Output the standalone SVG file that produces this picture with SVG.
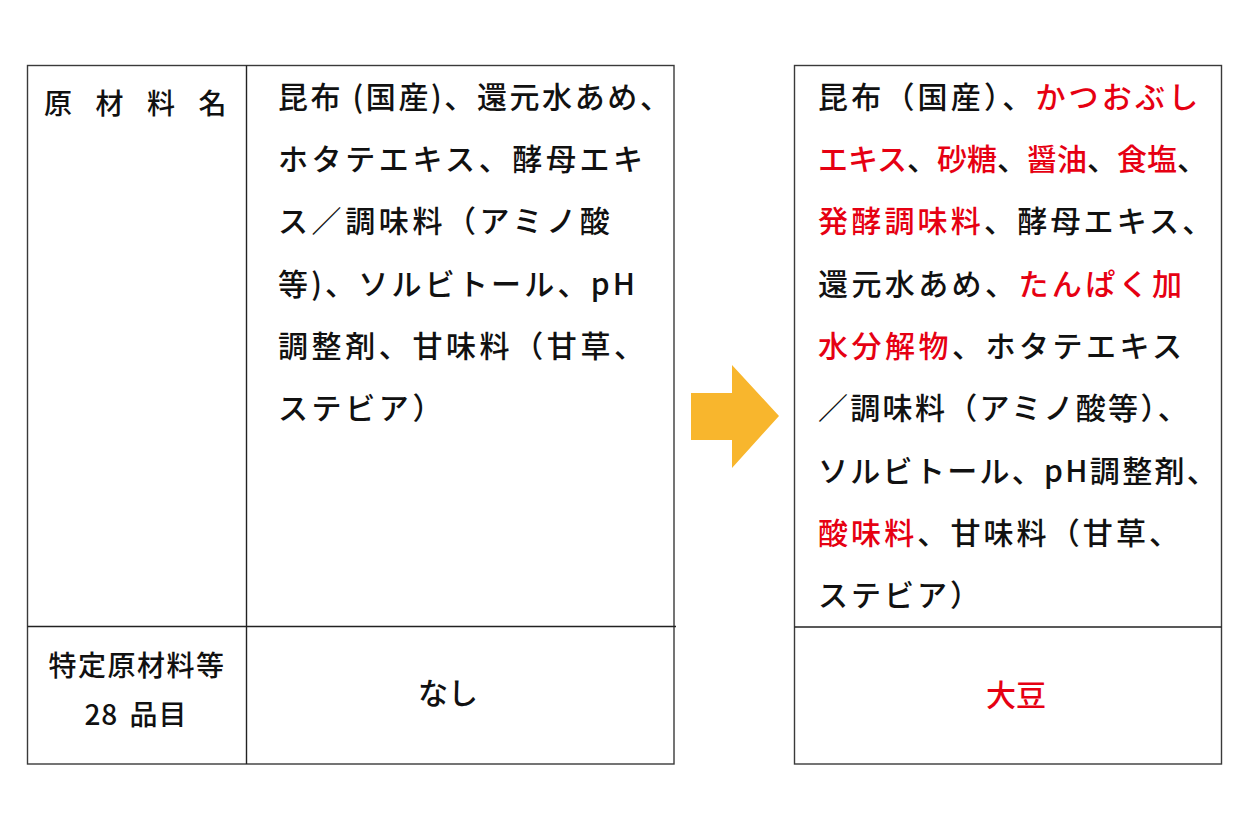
<svg xmlns="http://www.w3.org/2000/svg" width="1250" height="834" viewBox="0 0 1250 834">
<style>
.frame{fill:none;stroke:#3a3a3a;stroke-width:1.4}
.ln{stroke:#222;stroke-width:1.4}
.t{font-family:"Noto Sans CJK JP","Noto Sans",sans-serif;font-size:30px;fill:#111;font-weight:500}
.r{fill:#e60012}
.lbl{font-family:"Noto Sans CJK JP","Noto Sans",sans-serif;font-size:28px;fill:#111;font-weight:500}
</style>
<rect width="1250" height="834" fill="#fff"/>
<g id="before-table">
  <rect class="frame" x="27.5" y="65.5" width="646.5" height="698.5"/>
  <line class="ln" x1="246.5" y1="65.5" x2="246.5" y2="764"/>
  <line class="ln" x1="27.5" y1="626.5" x2="676" y2="626.5"/>
  <text class="lbl" x="44" y="114" letter-spacing="23.5">原材料名</text>
  <g class="t" letter-spacing="3.6">
    <text x="278" y="108" letter-spacing="2.6">昆布 (国産)、還元水あめ、</text>
    <text x="278" y="170">ホタテエキス、酵母エキ</text>
    <text x="278" y="232">ス／調味料（アミノ酸</text>
    <text x="278" y="295" letter-spacing="3.2">等)、ソルビトール、pH</text>
    <text x="278" y="357">調整剤、甘味料（甘草、</text>
    <text x="278" y="419">ステビア）</text>
  </g>
  <text class="lbl" x="137" y="676" text-anchor="middle" letter-spacing="1.5">特定原材料等</text>
  <text class="lbl" x="136" y="725" text-anchor="middle" word-spacing="4" letter-spacing="1">28 品目</text>
  <text class="t" x="448" y="704" text-anchor="middle" font-size="32">なし</text>
</g>
<g id="connectors">
  <polygon points="691,393 732,393 732,365 779,416 732,468 732,440 691,440" fill="#f8b62d"/>
</g>
<g id="after-table">
  <rect class="frame" x="794.5" y="65.5" width="427" height="698.5"/>
  <line class="ln" x1="794.5" y1="627" x2="1221.5" y2="627"/>
  <g class="t">
    <text x="818" y="108" letter-spacing="3.2">昆布（国産）、<tspan class="r">かつおぶし</tspan></text>
    <text x="818" y="170" letter-spacing="0"><tspan class="r">エキス</tspan>、<tspan class="r">砂糖</tspan>、<tspan class="r">醤油</tspan>、<tspan class="r">食塩</tspan>、</text>
    <text x="818" y="232" letter-spacing="3.2"><tspan class="r">発酵調味料</tspan>、酵母エキス、</text>
    <text x="818" y="295" letter-spacing="3.4">還元水あめ、<tspan class="r">たんぱく加</tspan></text>
    <text x="818" y="357" letter-spacing="3.5"><tspan class="r">水分解物</tspan>、ホタテエキス</text>
    <text x="818" y="419" letter-spacing="2.3">／調味料（アミノ酸等）、</text>
    <text x="818" y="482" letter-spacing="2.3">ソルビトール、pH調整剤、</text>
    <text x="818" y="544" letter-spacing="3.1"><tspan class="r">酸味料</tspan>、甘味料（甘草、</text>
    <text x="818" y="606" letter-spacing="3">ステビア）</text>
  </g>
  <text class="t r" x="1016" y="706" text-anchor="middle" font-size="36">大豆</text>
</g>
</svg>
